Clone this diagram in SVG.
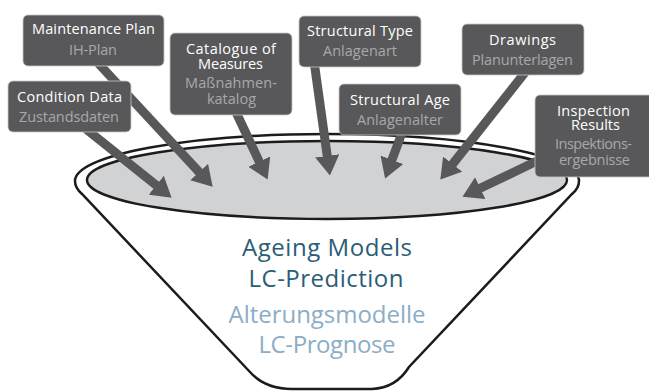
<svg xmlns="http://www.w3.org/2000/svg" width="649" height="392" viewBox="0 0 649 392">
  <style>
    .box { fill: #58585a; stroke: #c8c8c8; stroke-width: 0.8; }
    .t { font-family: "Open Sans", "Noto Sans", sans-serif; font-size: 14.5px; fill: #ffffff; text-anchor: middle; }
    .s { font-family: "Open Sans", "Noto Sans", sans-serif; font-size: 14.5px; fill: #a6a8ab; text-anchor: middle; }
    .arrow { stroke: #58585a; stroke-width: 9; fill: none; marker-end: url(#head); }
    .rim { stroke: #1c1c1c; stroke-width: 2.5; }
    .big { font-family: "Open Sans", "Noto Sans", sans-serif; font-size: 24px; text-anchor: middle; }
  </style>
  <defs>
    <marker id="head" viewBox="0 -1.35 2.2 2.7" refX="0.15" refY="0" markerWidth="2.2" markerHeight="2.7" markerUnits="strokeWidth" orient="auto">
      <path d="M0,-1.35 L2.2,0 L0,1.35 Z" fill="#58585a"/>
    </marker>
  </defs>

  <!-- funnel body with rim -->
  <g id="funnel">
    <path class="rim" fill="#ffffff" d="M75,181 A252,47 0 0 1 579,181 C579,186 577,190 572,194 L409,367 Q396,388 372,389 L292,389 Q265,389 250,372 L82,194 Q75,188 75,181 Z"/>
    <ellipse class="rim" cx="327" cy="180" rx="240" ry="39" fill="#d1d2d4"/>
    <text class="big" fill="#2b5d76"><tspan x="327" y="256" textLength="170" lengthAdjust="spacing">Ageing Models</tspan><tspan x="326" y="287" textLength="155" lengthAdjust="spacing">LC-Prediction</tspan></text>
    <text class="big" fill="#8cadc6"><tspan x="327" y="323" textLength="197" lengthAdjust="spacing">Alterungsmodelle</tspan><tspan x="327" y="353" textLength="137" lengthAdjust="spacing">LC-Prognose</tspan></text>
  </g>

  <!-- input arrows into the funnel -->
  <g id="connectors">
    <line class="arrow" x1="86" y1="129" x2="157.2" y2="186.1"/>
    <line class="arrow" x1="98" y1="63" x2="200.1" y2="173.1"/>
    <line class="arrow" x1="235" y1="110" x2="259.8" y2="162.8"/>
    <line class="arrow" x1="314" y1="61" x2="327.4" y2="157.2"/>
    <line class="arrow" x1="403" y1="130" x2="391.5" y2="161.1"/>
    <line class="arrow" x1="527" y1="70" x2="451.8" y2="165.1"/>
    <line class="arrow" x1="540" y1="159.5" x2="479.1" y2="188.8"/>
  </g>

  <g id="maintenance-plan">
    <rect class="box" x="23" y="15" width="141" height="51" rx="5"/>
    <text class="t" x="93.5" y="34" textLength="123" lengthAdjust="spacing">Maintenance Plan</text>
    <text class="s" x="93" y="55" textLength="48" lengthAdjust="spacing">IH-Plan</text>
  </g>

  <g id="condition-data">
    <rect class="box" x="8" y="81" width="123" height="51" rx="5"/>
    <text class="t" x="69.5" y="102" textLength="105" lengthAdjust="spacing">Condition Data</text>
    <text class="s" x="69" y="122" textLength="100" lengthAdjust="spacing">Zustandsdaten</text>
  </g>

  <g id="catalogue-of-measures">
    <rect class="box" x="170" y="33" width="122" height="82" rx="5"/>
    <text class="t"><tspan x="231" y="54" textLength="90" lengthAdjust="spacing">Catalogue of</tspan><tspan x="230.5" y="69" textLength="65" lengthAdjust="spacing">Measures</tspan></text>
    <text class="s"><tspan x="231" y="87.5" textLength="92" lengthAdjust="spacing">Maßnahmen-</tspan><tspan x="231.5" y="104" textLength="49" lengthAdjust="spacing">katalog</tspan></text>
  </g>

  <g id="structural-type">
    <rect class="box" x="299" y="16" width="122" height="51" rx="5"/>
    <text class="t" x="360" y="36" textLength="106" lengthAdjust="spacing">Structural Type</text>
    <text class="s" x="360" y="56" textLength="74" lengthAdjust="spacing">Anlagenart</text>
  </g>

  <g id="structural-age">
    <rect class="box" x="339" y="84" width="122" height="51" rx="5"/>
    <text class="t" x="400" y="105" textLength="100" lengthAdjust="spacing">Structural Age</text>
    <text class="s" x="400" y="125" textLength="86" lengthAdjust="spacing">Anlagenalter</text>
  </g>

  <g id="drawings">
    <rect class="box" x="462" y="24" width="122" height="51" rx="5"/>
    <text class="t" x="522.5" y="45" textLength="67" lengthAdjust="spacing">Drawings</text>
    <text class="s" x="522.5" y="65" textLength="101" lengthAdjust="spacing">Planunterlagen</text>
  </g>

  <g id="inspection-results">
    <rect class="box" x="535" y="95" width="120" height="82" rx="5"/>
    <text class="t"><tspan x="593.5" y="116" textLength="73" lengthAdjust="spacing">Inspection</tspan><tspan x="595.5" y="130" textLength="49" lengthAdjust="spacing">Results</tspan></text>
    <text class="s"><tspan x="593.5" y="149" textLength="77" lengthAdjust="spacing">Inspektions-</tspan><tspan x="594.5" y="165" textLength="71" lengthAdjust="spacing">ergebnisse</tspan></text>
  </g>
</svg>
